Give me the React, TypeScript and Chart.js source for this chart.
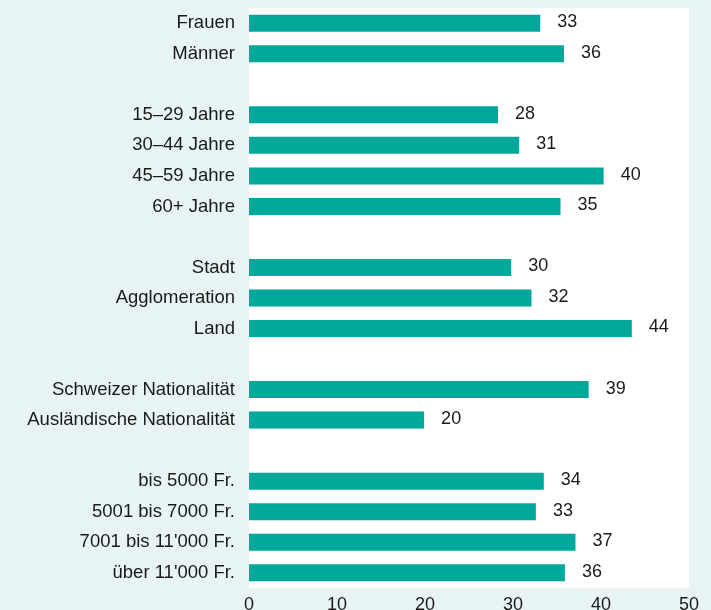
import React, { useEffect, useRef } from "react";
import { Chart, registerables } from "chart.js";

Chart.register(...registerables);

const categories: string[] = [
  "Frauen",
  "Männer",
  "",
  "15–29 Jahre",
  "30–44 Jahre",
  "45–59 Jahre",
  "60+ Jahre",
  "",
  "Stadt",
  "Agglomeration",
  "Land",
  "",
  "Schweizer Nationalität",
  "Ausländische Nationalität",
  "",
  "bis 5000 Fr.",
  "5001 bis 7000 Fr.",
  "7001 bis 11'000 Fr.",
  "über 11'000 Fr.",
];

const values: (number | null)[] = [
  33.1, 35.8, null,
  28.3, 30.7, 40.3, 35.4, null,
  29.8, 32.1, 43.5, null,
  38.6, 19.9, null,
  33.5, 32.6, 37.1, 35.9,
];

const valueLabels: string[] = [
  "33", "36", "",
  "28", "31", "40", "35", "",
  "30", "32", "44", "",
  "39", "20", "",
  "34", "33", "37", "36",
];

const xTicks: number[] = [0, 10, 20, 30, 40, 50];

const BG = "rgb(232,244,244)";
const BAR = "#00a89c";
const TEXT = "#1a1a1a";
const FONT = "'Liberation Sans', Arial, Helvetica, sans-serif";

export default function App() {
  const ref = useRef<HTMLCanvasElement | null>(null);

  useEffect(() => {
    if (!ref.current) return;

    const bgPlugin = {
      id: "plotBg",
      beforeDraw(chart: any) {
        const { ctx, chartArea } = chart;
        ctx.save();
        ctx.fillStyle = BG;
        ctx.fillRect(0, 0, chart.width, chart.height);
        ctx.fillStyle = "#ffffff";
        ctx.fillRect(
          chartArea.left,
          chartArea.top,
          chartArea.right - chartArea.left,
          chartArea.bottom - chartArea.top
        );
        ctx.restore();
      },
    };

    const labelPlugin = {
      id: "valueLabels",
      afterDatasetsDraw(chart: any) {
        const { ctx } = chart;
        const meta = chart.getDatasetMeta(0);
        ctx.save();
        ctx.font = `18px ${FONT}`;
        ctx.fillStyle = TEXT;
        ctx.textAlign = "left";
        ctx.textBaseline = "middle";
        meta.data.forEach((bar: any, i: number) => {
          const v = values[i];
          if (v === null || v === undefined) return;
          ctx.fillText(valueLabels[i], bar.x + 17, bar.y - 1);
        });
        ctx.restore();
      },
    };

    const chart = new Chart(ref.current, {
      type: "bar",
      data: {
        labels: categories,
        datasets: [
          {
            data: values as any,
            backgroundColor: BAR,
            borderWidth: 0,
            barPercentage: 0.557,
            categoryPercentage: 1,
          },
        ],
      },
      options: {
        indexAxis: "y",
        responsive: false,
        animation: false,
        maintainAspectRatio: false,
        layout: { padding: { top: 8, right: 22, bottom: 0, left: 0 } },
        plugins: {
          legend: { display: false },
          tooltip: { enabled: false },
        },
        scales: {
          x: {
            type: "linear",
            min: 0,
            max: 50,
            afterFit: (s: any) => {
              s.height = 22;
              s.paddingLeft = 0;
              s.paddingRight = 0;
              s.paddingTop = 0;
              s.paddingBottom = 0;
            },
            afterBuildTicks: (s: any) => {
              s.ticks = xTicks.map((v) => ({ value: v }));
            },
            grid: { display: false, drawTicks: false },
            border: { display: false },
            ticks: {
              color: TEXT,
              font: { family: FONT, size: 18 },
              padding: 6,
              maxRotation: 0,
            },
          },
          y: {
            type: "category",
            afterFit: (s: any) => {
              s.width = 249;
              s.paddingLeft = 0;
              s.paddingRight = 0;
              s.paddingTop = 0;
              s.paddingBottom = 0;
            },
            grid: { display: false, drawTicks: false },
            border: { display: false },
            ticks: {
              color: TEXT,
              font: { family: FONT, size: 18.5 },
              padding: 14,
              autoSkip: false,
            },
          },
        },
      },
      plugins: [bgPlugin, labelPlugin],
    });

    return () => chart.destroy();
  }, []);

  return (
    <div
      style={{
        position: "fixed",
        left: 0,
        top: 0,
        width: 711,
        height: 610,
        background: BG,
      }}
    >
      <canvas ref={ref} width={711} height={610} style={{ display: "block" }} />
    </div>
  );
}
